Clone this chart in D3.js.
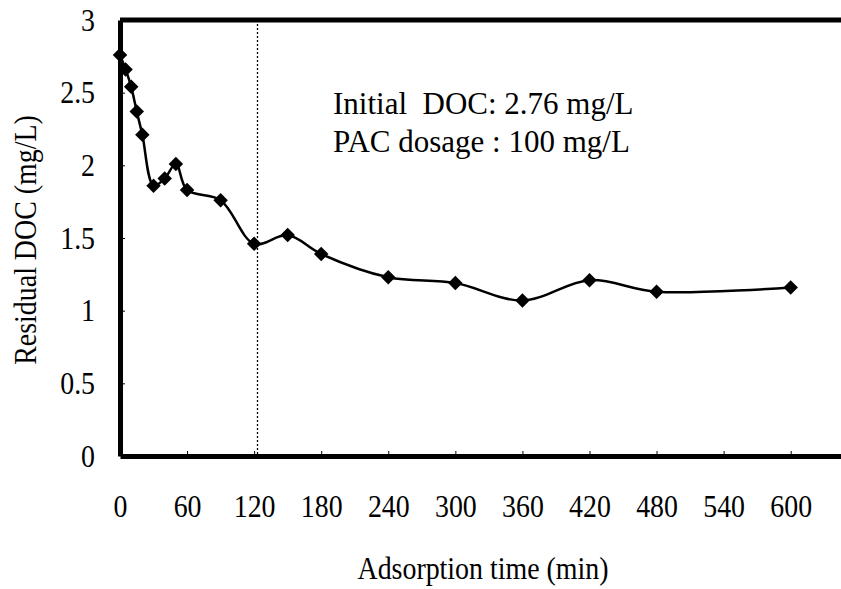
<!DOCTYPE html>
<html>
<head>
<meta charset="utf-8">
<script src="https://cdn.jsdelivr.net/npm/d3@7"></script>
<style>
  body { margin: 0; background: #fff; }
  svg { display: block; }
  text { font-family: "Liberation Serif", "Times New Roman", serif; fill: #000; }
  .tick text { font-size: 32px; transform-box: fill-box; transform-origin: 50% 50%; transform: scaleX(0.87); }
  .y .tick text { transform-origin: 100% 50%; }
  .ttl { font-size: 31px; transform-box: fill-box; transform-origin: 50% 50%; transform: scaleX(0.9); }
  .note { font-size: 31px; white-space: pre; }
</style>
</head>
<body>
<div id="chart"></div>
<script>
// adsorption time (min) and residual DOC (mg/L)
var times = [0, 5, 10, 15, 20, 30, 40, 50, 60, 90, 120, 150, 180, 240, 300, 360, 420, 480, 600];
var doc   = [2.76, 2.66, 2.54, 2.37, 2.21, 1.86, 1.91, 2.01, 1.83, 1.76, 1.46, 1.52, 1.39, 1.23, 1.19, 1.07, 1.21, 1.13, 1.16];

var xTicks = [0, 60, 120, 180, 240, 300, 360, 420, 480, 540, 600];
var yTicks = [0, 0.5, 1, 1.5, 2, 2.5, 3];
var markTime = 123;   // dotted reference line
var notes = ["Initial  DOC: 2.76 mg/L", "PAC dosage : 100 mg/L"];

var W = 841, H = 589;
var margin = {top: 20, right: 0, bottom: 133, left: 120},
    width = W - margin.left - margin.right,
    height = H - margin.top - margin.bottom;

var data = times.map(function(t, i) { return {t: t, v: doc[i]}; });

var svg = d3.select("#chart").append("svg")
    .attr("width", W)
    .attr("height", H);

var g = svg.append("g")
    .attr("transform", "translate(" + margin.left + "," + margin.top + ")");

var x = d3.scaleLinear().domain([0, 645]).range([0, width]);
var y = d3.scaleLinear().domain([0, 3]).range([height, 0]);

// x axis
var xAxis = g.append("g")
    .attr("class", "x")
    .attr("transform", "translate(0," + height + ")")
    .call(d3.axisBottom(x).tickValues(xTicks).tickFormat(d3.format("d"))
        .tickSizeInner(-5).tickSizeOuter(0).tickPadding(38));
xAxis.select(".domain").attr("stroke-width", 5);
xAxis.selectAll(".tick line").attr("stroke-width", 1);

// y axis
var yAxis = g.append("g")
    .attr("class", "y")
    .call(d3.axisLeft(y).tickValues(yTicks).tickFormat(function(d) { return d; })
        .tickSizeInner(-5).tickSizeOuter(0).tickPadding(25));
yAxis.select(".domain").attr("stroke-width", 5);
yAxis.selectAll(".tick line").attr("stroke-width", 1);
yAxis.selectAll(".tick").filter(function(d) { return d == 0 || d == 3; }).select("line").remove();
xAxis.selectAll(".tick").filter(function(d) { return d == 0; }).select("line").remove();

// top frame line
g.append("line")
    .attr("x1", x(0)).attr("x2", width)
    .attr("y1", y(3)).attr("y2", y(3))
    .attr("stroke", "#000")
    .attr("stroke-width", 5);

// dotted line
g.append("line")
    .attr("x1", x(markTime)).attr("x2", x(markTime))
    .attr("y1", y(3)).attr("y2", y(0))
    .attr("stroke", "#000")
    .attr("stroke-width", 1.3)
    .attr("stroke-dasharray", "2,2");

// data line
var line = d3.line()
    .x(function(d) { return x(d.t); })
    .y(function(d) { return y(d.v); })
    .curve(d3.curveCatmullRom.alpha(0.5));

g.append("path")
    .datum(data)
    .attr("d", line)
    .attr("fill", "none")
    .attr("stroke", "#000")
    .attr("stroke-width", 2.5);

g.selectAll(".pt")
    .data(data)
    .enter()
    .append("path")
    .attr("class", "pt")
    .attr("d", d3.symbol().type(d3.symbolSquare).size(105))
    .attr("transform", function(d) { return "translate(" + x(d.t) + "," + y(d.v) + ") rotate(45)"; })
    .attr("fill", "#000");

// annotation
g.selectAll(".note")
    .data(notes)
    .enter()
    .append("text")
    .attr("class", "note")
    .attr("x", 213)
    .attr("y", function(d, i) { return 94 + i * 38; })
    .text(function(d) { return d; });

// axis titles
svg.append("text")
    .attr("class", "ttl")
    .attr("x", 483)
    .attr("y", 579)
    .attr("text-anchor", "middle")
    .text("Adsorption time (min)");

svg.append("g")
    .attr("transform", "translate(36,240) rotate(-90)")
    .append("text")
    .attr("class", "ttl")
    .attr("text-anchor", "middle")
    .text("Residual DOC (mg/L)");
</script>
</body>
</html>
